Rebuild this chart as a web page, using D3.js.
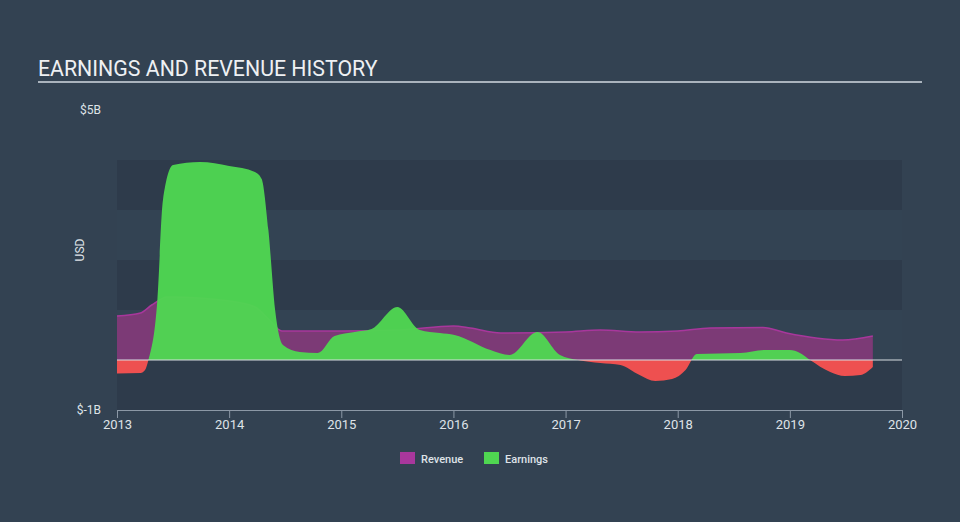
<!DOCTYPE html>
<html>
<head>
<meta charset="utf-8">
<script src="https://cdn.jsdelivr.net/npm/d3@7"></script>
<style>
  html, body { margin: 0; padding: 0; background: #334252; }
  body { width: 960px; height: 522px; overflow: hidden; font-family: Roboto, "Open Sans", sans-serif; }
  .axis path, .axis line { stroke: #8c98a6; }
  .axis text { fill: #dfe3e8; font-size: 13px; font-family: Roboto, sans-serif; }
</style>
</head>
<body>
<div id="chart"></div>
<script>
// earnings and revenue history, values in billions USD, x in decimal years

const revYears = [2013.00, 2013.21, 2013.31, 2013.45, 2014.00, 2014.23, 2014.36, 2014.47, 2015.00, 2015.52,
                  2016.00, 2016.15, 2016.42, 2017.00, 2017.31, 2017.66, 2018.00, 2018.29, 2018.76, 2018.97,
                  2019.47, 2019.74];
const revValues = [0.88, 0.94, 1.10, 1.26, 1.18, 1.06, 0.80, 0.58, 0.58, 0.60,
                   0.68, 0.64, 0.54, 0.56, 0.60, 0.56, 0.58, 0.64, 0.65, 0.54,
                   0.40, 0.48];

const earnYears = [2013.00, 2013.21, 2013.25, 2013.28, 2013.36, 2013.41, 2013.50, 2013.74, 2014.00, 2014.23,
                   2014.29, 2014.35, 2014.41, 2014.48, 2014.63, 2014.79, 2014.94, 2015.12, 2015.27, 2015.50,
                   2015.70, 2015.88, 2016.01, 2016.33, 2016.50, 2016.75, 2016.95, 2017.11, 2017.31, 2017.49,
                   2017.66, 2017.80, 2017.95, 2018.07, 2018.17, 2018.56, 2018.78, 2019.00, 2019.09, 2019.18,
                   2019.36, 2019.49, 2019.63, 2019.74];
const earnValues = [-0.27, -0.26, -0.20, 0.00, 1.20, 3.20, 3.90, 3.96, 3.88, 3.76,
                    3.62, 2.60, 1.00, 0.30, 0.16, 0.14, 0.48, 0.56, 0.62, 1.06,
                    0.60, 0.54, 0.50, 0.20, 0.10, 0.56, 0.10, 0.00, -0.06, -0.10,
                    -0.30, -0.42, -0.38, -0.20, 0.12, 0.14, 0.20, 0.20, 0.14, 0.00,
                    -0.24, -0.32, -0.30, -0.14];

const xTicks = [2013, 2014, 2015, 2016, 2017, 2018, 2019, 2020];
const yTickVals = [5, -1];
const yTickLabels = ["$5B", "$-1B"];
const bandVals = [-1, 0, 1, 2, 3];

const W = 960, H = 522;
const margin = { top: 110, right: 58, bottom: 112, left: 117 };
const width = W - margin.left - margin.right;
const height = H - margin.top - margin.bottom;

const svg = d3.select("#chart").append("svg")
  .attr("width", W).attr("height", H);

// title
svg.append("text")
  .attr("x", 38).attr("y", 76)
  .attr("fill", "#eef0f3")
  .attr("font-size", "21.3px")
  .attr("font-family", "Roboto, sans-serif")
  .text("EARNINGS AND REVENUE HISTORY");
svg.append("line")
  .attr("x1", 38).attr("x2", 922).attr("y1", 82).attr("y2", 82)
  .attr("stroke", "#aab3bd").attr("stroke-width", 2);

const g = svg.append("g").attr("transform", `translate(${margin.left},${margin.top})`);

const x = d3.scaleLinear().domain([2013, 2020]).range([0, width]);
const y = d3.scaleLinear().domain([-1, 5]).range([height, 0]);

// background bands
g.selectAll(".band").data(bandVals).enter().append("rect")
  .attr("x", 0).attr("width", width)
  .attr("y", d => y(d + 1))
  .attr("height", d => y(d) - y(d + 1))
  .attr("fill", d => (d % 2 === 0) ? "#334353" : "#2e3b4b");

// revenue
const revData = revYears.map((t, i) => ({ t, v: revValues[i] }));
const earnData = earnYears.map((t, i) => ({ t, v: earnValues[i] }));

const area = d3.area()
  .x(d => x(d.t)).y0(y(0)).y1(d => y(d.v))
  .curve(d3.curveMonotoneX);
const line = d3.line()
  .x(d => x(d.t)).y(d => y(d.v))
  .curve(d3.curveMonotoneX);

g.append("path").datum(revData)
  .attr("d", area)
  .attr("fill", "#7c3a76");
g.append("path").datum(revData)
  .attr("d", line)
  .attr("fill", "none")
  .attr("stroke", "#a8379c")
  .attr("stroke-width", 1.5);

// earnings, green above zero and red below
const defs = svg.append("defs");
defs.append("clipPath").attr("id", "clip-pos")
  .append("rect").attr("x", 0).attr("y", 0).attr("width", width).attr("height", y(0));
defs.append("clipPath").attr("id", "clip-neg")
  .append("rect").attr("x", 0).attr("y", y(0)).attr("width", width).attr("height", height - y(0));

g.append("path").datum(earnData)
  .attr("d", area)
  .attr("clip-path", "url(#clip-pos)")
  .attr("fill", "#4fd651")
  .attr("fill-opacity", 0.96);
g.append("path").datum(earnData)
  .attr("d", area)
  .attr("clip-path", "url(#clip-neg)")
  .attr("fill", "#ee5050");

// zero line
g.append("line")
  .attr("x1", 0).attr("x2", width)
  .attr("y1", y(0)).attr("y2", y(0))
  .attr("stroke", "#d8dde2").attr("stroke-width", 1.2);

// x axis
const xAxis = g.append("g")
  .attr("class", "axis")
  .attr("transform", `translate(0,${height})`)
  .call(d3.axisBottom(x).tickValues(xTicks).tickFormat(d3.format("d")).tickSize(8).tickPadding(2));
xAxis.select(".domain").attr("stroke", "#8c98a6");

// y labels
g.selectAll(".ylab").data(yTickVals).enter().append("text")
  .attr("x", -16).attr("y", d => y(d) + 4)
  .attr("text-anchor", "end")
  .attr("fill", "#dfe3e8")
  .attr("font-size", "12px")
  .text((d, i) => yTickLabels[i]);

svg.append("text")
  .attr("transform", `translate(84,${margin.top + height / 2 - 10}) rotate(-90)`)
  .attr("text-anchor", "middle")
  .attr("fill", "#dfe3e8")
  .attr("font-size", "12px")
  .text("USD");

// legend
const legend = [
  { label: "Revenue", color: "#a8379c", x: 400 },
  { label: "Earnings", color: "#4fd651", x: 484 }
];
const lg = svg.selectAll(".leg").data(legend).enter().append("g")
  .attr("transform", d => `translate(${d.x},452)`);
lg.append("rect").attr("width", 15).attr("height", 12).attr("fill", d => d.color);
lg.append("text")
  .attr("x", 21).attr("y", 10.5)
  .attr("fill", "#dfe3e8")
  .attr("font-size", "11px")
  .attr("font-weight", "500")
  .text(d => d.label);
</script>
</body>
</html>
